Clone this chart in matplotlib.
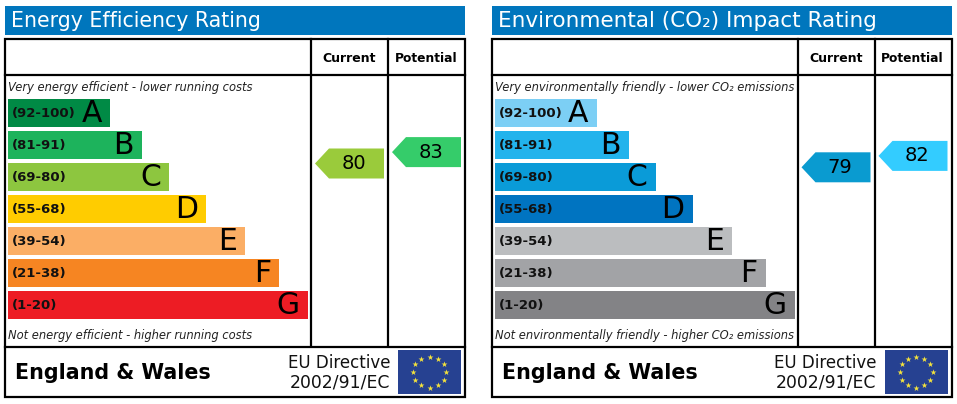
import matplotlib
matplotlib.use("Agg")
import matplotlib.pyplot as plt
import numpy as np

# data
bandRanges = ["(92-100)", "(81-91)", "(69-80)", "(55-68)", "(39-54)", "(21-38)", "(1-20)"]
bandLetters = ["A", "B", "C", "D", "E", "F", "G"]

energyLengths = [102, 134, 161, 198, 237, 271, 300]
envLengths = [102, 134, 161, 198, 237, 271, 300]

energyColors = ["#008a45", "#1db35c", "#8dc63f", "#ffcc00", "#fbae65", "#f68522", "#ed1c24"]
envColors = ["#7ccff5", "#22b3ec", "#0a9bd8", "#0074c1", "#bbbdbf", "#a2a3a6", "#838386"]

energyScores = [80, 83]
envScores = [79, 82]
energyArrowColors = ["#9acb3b", "#35cc6a"]
envArrowColors = ["#0a9bd0", "#33ccff"]

blue = "#0076bd"
flagBlue = "#264191"
starYellow = "#f5e33c"


def scoreToY(score):
	return 163.5 + (80 - score) * 3.8


def drawPanel(ax, offset, title, titleSize, topText, bottomText, lengths, colors, scores, arrowColors):
	left = 5 + offset
	right = 465 + offset

	# title band
	ax.add_patch(plt.Rectangle((left, 6), 460, 29, color=blue, lw=0))
	ax.text(left + 6, 21, title, color="white", fontsize=titleSize, va="center", ha="left")

	# frame
	ax.add_patch(plt.Rectangle((left, 39), 460, 358, fill=False, ec="black", lw=1.6))
	ax.plot([left, right], [75, 75], color="black", lw=1.6)
	ax.plot([left, right], [346.5, 346.5], color="black", lw=1.6)
	ax.plot([311 + offset, 311 + offset], [39, 346], color="black", lw=1.6)
	ax.plot([388 + offset, 388 + offset], [39, 346], color="black", lw=1.6)

	ax.text(349.5 + offset, 58.5, "Current", fontsize=9, fontweight="bold", ha="center", va="center")
	ax.text(426 + offset, 58.5, "Potential", fontsize=8.8, fontweight="bold", ha="center", va="center")

	ax.text(8.5 + offset, 87, topText, fontsize=8.3, style="italic", ha="left", va="center", color="#222222")
	ax.text(8.5 + offset, 336, bottomText, fontsize=8.3, style="italic", ha="left", va="center", color="#222222")

	# bars
	yPos = 113 + 32 * np.arange(len(lengths))
	ax.barh(yPos, lengths, height=28, left=8 + offset, color=colors, lw=0)
	for i in range(len(lengths)):
		ax.text(12 + offset, yPos[i] + 0.5, bandRanges[i], fontsize=9.5, fontweight="bold", ha="left", va="center", color="#111111")
		ax.text(8 + offset + lengths[i] - 8, yPos[i] + 0.5, bandLetters[i], fontsize=21.5, ha="right", va="center", color="black")

	# score arrows
	arrowRights = [384 + offset, 461 + offset]
	for i in range(len(scores)):
		y = scoreToY(scores[i])
		r = arrowRights[i]
		points = [(r - 69, y), (r - 55, y - 15), (r, y - 15), (r, y + 15), (r - 55, y + 15)]
		ax.add_patch(plt.Polygon(points, color=arrowColors[i], lw=0))
		ax.text(r - 30.5, y, str(scores[i]), fontsize=14, ha="center", va="center", color="black")

	# footer
	ax.text(15 + offset, 373, "England & Wales", fontsize=14.9, fontweight="bold", ha="left", va="center")
	ax.text(390 + offset, 362.5, "EU Directive", fontsize=12, ha="right", va="center", color="#111111")
	ax.text(390 + offset, 382.5, "2002/91/EC", fontsize=12.4, ha="right", va="center", color="#111111")

	# flag
	ax.add_patch(plt.Rectangle((398 + offset, 350), 63, 44, color=flagBlue, lw=0))
	angles = np.arange(12) * np.pi / 6
	ax.scatter(429.5 + offset + 16.5 * np.cos(angles), 372 + 15.5 * np.sin(angles), marker="*", s=20, color=starYellow, lw=0, zorder=3)


fig = plt.figure(figsize=(9.57, 4.04), dpi=100)
ax = fig.add_axes([0, 0, 1, 1])
ax.set_xlim(0, 957)
ax.set_ylim(404, 0)
ax.axis("off")

drawPanel(ax, 0, "Energy Efficiency Rating", 14.8,
	"Very energy efficient - lower running costs", "Not energy efficient - higher running costs",
	energyLengths, energyColors, energyScores, energyArrowColors)
drawPanel(ax, 486.5, "Environmental (CO₂) Impact Rating", 15.5,
	"Very environmentally friendly - lower CO₂ emissions", "Not environmentally friendly - higher CO₂ emissions",
	envLengths, envColors, envScores, envArrowColors)

plt.savefig("out.png", dpi=100)
